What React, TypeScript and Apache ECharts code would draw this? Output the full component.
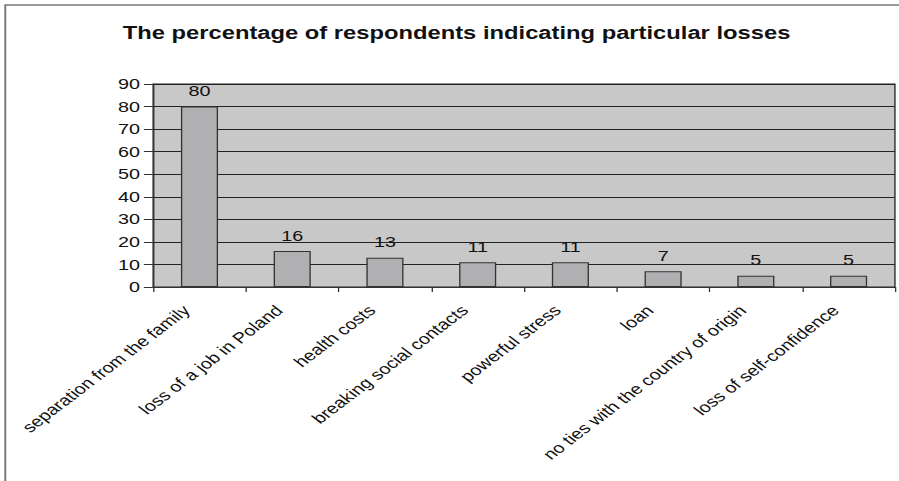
import React, { useEffect, useRef } from "react";
import * as echarts from "echarts";

const title = "The percentage of respondents indicating particular losses";
const categories = [
  "separation from the family",
  "loss of a job in Poland",
  "health costs",
  "breaking social contacts",
  "powerful stress",
  "loan",
  "no ties with the country of origin",
  "loss of self-confidence",
];
const values = [80, 16, 13, 11, 11, 7, 5, 5];

const FONT = "Liberation Sans, Arial, sans-serif";
// The chart is laid out narrower and stretched horizontally to the page width.
const STRETCH = 1.32;
const PAGE_W = 899;
const PAGE_H = 481;
const INNER_W = Math.round(PAGE_W / STRETCH);

export default function App() {
  const ref = useRef<HTMLDivElement>(null);

  useEffect(() => {
    if (!ref.current) return;
    const chart = echarts.init(ref.current, null, { renderer: "svg" });
    chart.setOption({
      animation: false,
      backgroundColor: "#ffffff",
      textStyle: { fontFamily: FONT },
      title: {
        text: title,
        left: 88,
        top: 19,
        textStyle: { fontFamily: FONT, fontSize: 18, fontWeight: "bold", color: "#111" },
      },
      graphic: [
        {
          type: "rect",
          shape: { x: 4, y: 5, width: 1000, height: 1000 },
          style: { fill: "none", stroke: "#7a7a7a", lineWidth: 1.5 },
          silent: true,
        },
      ],
      grid: {
        left: 116,
        right: 3,
        top: 84,
        bottom: 194,
        show: true,
        backgroundColor: "#c8c8c8",
        borderColor: "#222",
        borderWidth: 1,
      },
      xAxis: {
        type: "category",
        data: categories,
        axisLine: { show: true, lineStyle: { color: "#333", width: 1 } },
        axisTick: { show: true, length: 5, alignWithLabel: false, lineStyle: { color: "#333" } },
        axisLabel: {
          rotate: 45,
          interval: 0,
          fontSize: 15,
          color: "#111",
          fontFamily: FONT,
          margin: 11,
          padding: [0, 14, 0, 0],
        },
      },
      yAxis: {
        type: "value",
        min: 0,
        max: 90,
        interval: 10,
        axisLine: { show: true, lineStyle: { color: "#333", width: 1 } },
        axisTick: { show: true, length: 7, lineStyle: { color: "#333" } },
        axisLabel: { fontSize: 15, color: "#111", fontFamily: FONT, margin: 10 },
        splitLine: { show: true, lineStyle: { color: "#222", width: 1 } },
      },
      series: [
        {
          type: "bar",
          data: values,
          barWidth: "40%",
          itemStyle: { color: "#b0b0b2", borderColor: "#333", borderWidth: 1 },
          label: {
            show: true,
            position: "top",
            distance: 8,
            fontSize: 15,
            color: "#111",
            fontFamily: FONT,
          },
        },
      ],
    });
    return () => chart.dispose();
  }, []);

  return (
    <div
      ref={ref}
      style={{
        position: "fixed",
        left: 0,
        top: 0,
        width: INNER_W,
        height: PAGE_H,
        transform: `scaleX(${STRETCH})`,
        transformOrigin: "0 0",
      }}
    />
  );
}
